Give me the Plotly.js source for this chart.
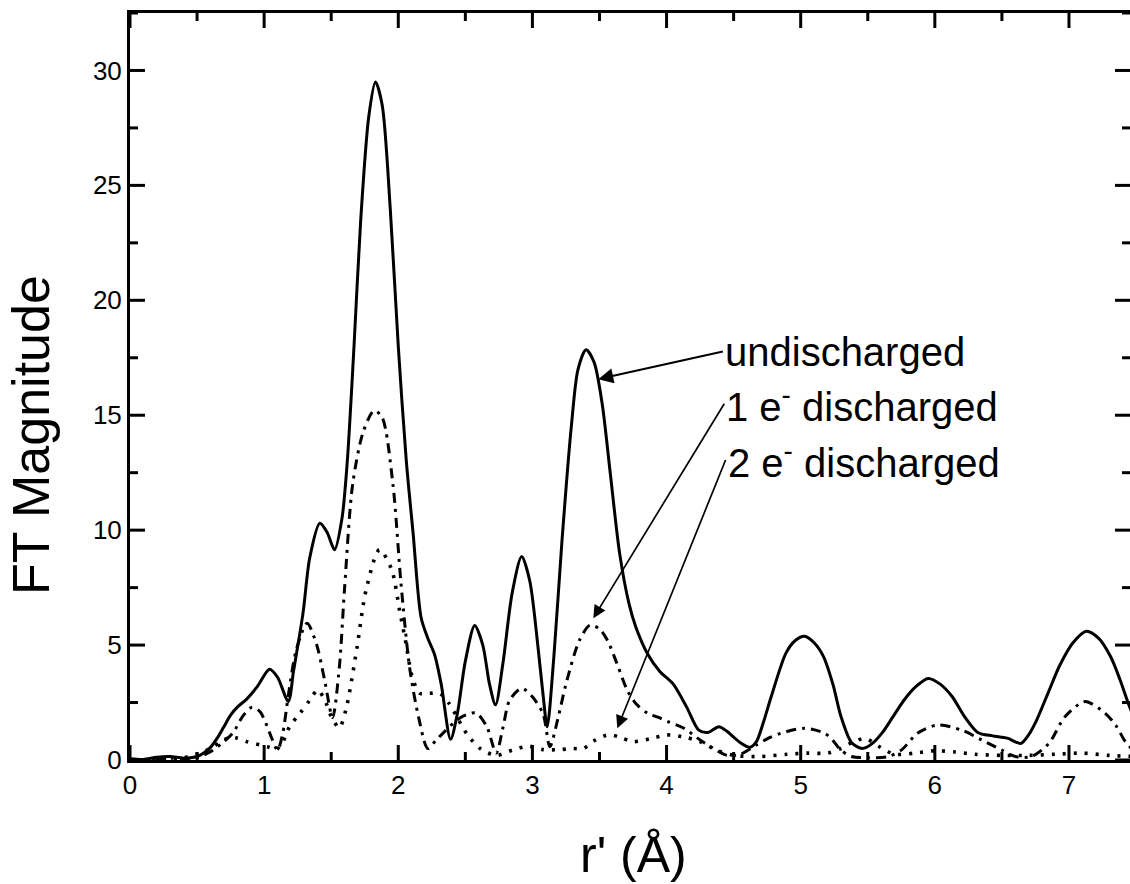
<!DOCTYPE html>
<html>
<head>
<meta charset="utf-8">
<script src="https://cdn.plot.ly/plotly-3.0.1.min.js"></script>
<style>
html,body{margin:0;padding:0;background:#fff;}
#chart{width:1130px;height:884px;}
</style>
</head>
<body>
<div id="chart"></div>
<script>
// undischarged (solid)
const rUnd = [0.00,0.10,0.20,0.30,0.40,0.50,0.55,0.60,0.65,0.70,0.75,0.80,0.87,0.95,1.04,1.10,1.18,1.22,1.29,1.34,1.415,1.47,1.525,1.58,1.62,1.67,1.72,1.78,1.83,1.88,1.94,2.00,2.06,2.11,2.17,2.22,2.27,2.32,2.39,2.44,2.50,2.57,2.63,2.68,2.725,2.78,2.85,2.92,2.98,3.04,3.08,3.11,3.16,3.22,3.29,3.34,3.40,3.46,3.52,3.58,3.65,3.72,3.77,3.86,3.95,4.05,4.15,4.24,4.31,4.39,4.45,4.50,4.55,4.62,4.67,4.72,4.78,4.89,4.96,5.03,5.10,5.17,5.24,5.30,5.38,5.46,5.53,5.61,5.69,5.77,5.86,5.95,6.04,6.13,6.22,6.32,6.43,6.54,6.64,6.70,6.76,6.85,6.93,7.03,7.13,7.22,7.31,7.38,7.44,7.50];
const vUnd = [0.05,0.02,0.12,0.15,0.08,0.15,0.3,0.55,0.95,1.45,1.95,2.3,2.65,3.2,3.95,3.6,2.55,3.9,6.4,8.8,10.3,9.9,9.15,10.5,13,18,23.5,28,29.5,28.5,24,18,13,9.9,6.2,5.3,4.6,3.3,0.9,2.0,4.3,5.85,5.0,3.3,2.4,4.2,7.3,8.85,7.8,5.0,2.8,1.45,4.5,9.5,14.5,17.0,17.85,17.3,15.5,12.5,9.0,6.8,5.8,4.6,3.85,3.3,2.3,1.3,1.2,1.45,1.25,1.0,0.75,0.55,0.8,1.6,2.75,4.65,5.2,5.38,5.1,4.5,3.3,1.9,0.75,0.5,0.7,1.2,1.9,2.6,3.2,3.55,3.3,2.75,1.9,1.2,1.05,0.95,0.72,1.1,1.75,3.0,4.1,5.1,5.6,5.3,4.5,3.5,2.5,1.6];

// 1 e- discharged (dash-dot)
const rOne = [0.00,0.10,0.20,0.30,0.40,0.50,0.60,0.70,0.77,0.84,0.91,0.97,1.02,1.06,1.10,1.14,1.18,1.24,1.32,1.39,1.45,1.51,1.56,1.60,1.66,1.74,1.82,1.88,1.96,2.02,2.085,2.15,2.22,2.28,2.33,2.41,2.48,2.58,2.66,2.73,2.78,2.83,2.92,3.00,3.08,3.13,3.19,3.25,3.35,3.43,3.50,3.56,3.63,3.71,3.78,3.86,3.94,4.01,4.13,4.25,4.37,4.45,4.55,4.67,4.76,4.85,5.03,5.18,5.24,5.30,5.38,5.50,5.65,5.75,5.87,6.02,6.20,6.35,6.50,6.60,6.72,6.85,6.97,7.12,7.27,7.35,7.42,7.50];
const vOne = [0.02,0.0,0.05,0.08,0.05,0.1,0.36,0.8,1.2,1.9,2.3,2.1,1.5,0.9,0.43,1.2,2.8,4.8,5.95,5.05,3.5,1.85,4.0,7.5,12,14.3,15.2,14.9,12,7.7,4.0,1.9,0.5,0.85,1.15,1.6,1.9,2.05,1.45,0.3,1.4,2.6,3.12,2.75,2.0,0.58,1.8,3.3,5.2,5.87,5.7,5.2,4.2,3.0,2.4,2.03,1.85,1.67,1.38,0.87,0.43,0.2,0.25,0.65,0.95,1.16,1.38,1.16,0.85,0.43,0.15,0.1,0.15,0.43,1.16,1.52,1.3,0.87,0.43,0.15,0.15,0.72,1.88,2.54,2.03,1.5,0.8,0.3];

// 2 e- discharged (dotted)
const rTwo = [0.00,0.10,0.20,0.30,0.40,0.52,0.60,0.68,0.75,0.80,0.87,0.97,1.04,1.09,1.14,1.19,1.27,1.34,1.40,1.46,1.50,1.56,1.61,1.69,1.76,1.86,1.95,2.01,2.06,2.10,2.16,2.23,2.31,2.38,2.43,2.51,2.61,2.73,2.85,2.97,3.08,3.20,3.30,3.38,3.47,3.57,3.65,3.75,3.89,4.00,4.13,4.25,4.37,4.50,4.70,4.90,5.05,5.20,5.30,5.38,5.48,5.58,5.70,5.85,6.00,6.15,6.30,6.50,6.70,6.90,7.10,7.30,7.50];
const vTwo = [0.0,0.0,0.05,0.05,0.1,0.3,0.5,0.8,1.0,0.95,0.8,0.65,0.55,0.45,0.8,1.45,2.05,2.6,3.05,2.5,1.9,1.4,2.2,4.8,7.4,9.15,8.3,6.5,5.0,3.7,2.9,2.9,2.9,2.45,1.95,1.15,0.5,0.2,0.43,0.6,0.45,0.45,0.5,0.5,0.87,1.1,1.0,0.8,0.94,1.09,1.0,0.8,0.43,0.2,0.15,0.25,0.3,0.3,0.5,0.75,0.94,0.6,0.25,0.3,0.4,0.35,0.25,0.2,0.2,0.25,0.3,0.2,0.15];

// tick values
const xMajor = [0,1,2,3,4,5,6,7];
const xMinor = [0.5,1.5,2.5,3.5,4.5,5.5,6.5];
const yMajor = [0,5,10,15,20,25,30];
const yMinor = [2.5,7.5,12.5,17.5,22.5,27.5,32.5];

const seriesNames = ["undischarged", "1 e<sup>-</sup> discharged", "2 e<sup>-</sup> discharged"];
const xTitle = "r' (Å)";
const yTitle = "FT Magnitude";

const FONT = "Liberation Sans, Arial, Helvetica, sans-serif";

const traces = [
  {x: rUnd, y: vUnd, mode: "lines", name: seriesNames[0],
   line: {color: "#000", width: 3, shape: "spline", smoothing: 0.8}},
  {x: rOne, y: vOne, mode: "lines", name: seriesNames[1],
   line: {color: "#000", width: 3, dash: "10px,6px,3px,6px", shape: "spline", smoothing: 0.8}},
  {x: rTwo, y: vTwo, mode: "lines", name: seriesNames[2],
   line: {color: "#000", width: 3.6, dash: "3px,8px", shape: "spline", smoothing: 0.8}}
];

const W = 1130, H = 884, ML = 130, MR = 0, MT = 13, MB = 124;
function px2paperX(p){ return (p - ML) / (W - ML - MR); }
function px2paperY(p){ return 1 - (p - MT) / (H - MT - MB); }

// tick marks (inside, on all four sides) as pixel-sized shapes anchored on the axis scales
const MAJ = 15, MIN = 8;
const tickShapes = [];
function xTick(v, len) {
  const ln = {color: "black", width: 3};
  tickShapes.push({type: "line", layer: "above", xref: "x", yref: "paper", x0: v, x1: v,
    ysizemode: "pixel", yanchor: 0, y0: 0, y1: len, line: ln});
  tickShapes.push({type: "line", layer: "above", xref: "x", yref: "paper", x0: v, x1: v,
    ysizemode: "pixel", yanchor: 1, y0: 0, y1: -len, line: ln});
}
function yTick(v, len) {
  const ln = {color: "black", width: 3};
  tickShapes.push({type: "line", layer: "above", xref: "paper", yref: "y", y0: v, y1: v,
    xsizemode: "pixel", xanchor: 0, x0: 0, x1: len, line: ln});
  tickShapes.push({type: "line", layer: "above", xref: "paper", yref: "y", y0: v, y1: v,
    xsizemode: "pixel", xanchor: 1, x0: 0, x1: -len, line: ln});
}
xMajor.forEach(v => xTick(v, MAJ));
xMinor.forEach(v => xTick(v, MIN));
yMajor.forEach(v => yTick(v, MAJ));
yMinor.forEach(v => yTick(v, MIN));

const labelFont = {family: FONT, size: 40, color: "black"};

const layout = {
  width: W, height: H,
  margin: {l: ML, r: MR, t: MT, b: MB},
  paper_bgcolor: "white",
  plot_bgcolor: "white",
  showlegend: false,
  xaxis: {
    showgrid: false, zeroline: false, showline: true, linecolor: "black", linewidth: 3,
    mirror: true, ticks: "",
    tickfont: {family: FONT, size: 26, color: "black"},
    range: [0, 7.455], tickmode: "array", tickvals: xMajor, ticktext: xMajor.map(String)
  },
  yaxis: {
    showgrid: false, zeroline: false, showline: true, linecolor: "black", linewidth: 3,
    mirror: true, ticks: "", ticksuffix: " ",
    tickfont: {family: FONT, size: 26, color: "black"},
    range: [0, 32.5], tickmode: "array", tickvals: yMajor, ticktext: yMajor.map(String)
  },
  shapes: tickShapes,
  annotations: [
    {x: 3.491, y: 16.57, ax: 4.42, ay: 17.77, axref: "x", ayref: "y", xref: "x", yref: "y",
     xanchor: "left", yanchor: "middle", text: seriesNames[0], font: labelFont,
     showarrow: true, arrowhead: 2, arrowsize: 1.5, arrowwidth: 2, arrowcolor: "black", standoff: 0},
    {x: 3.454, y: 6.17, ax: 4.43, ay: 15.5, axref: "x", ayref: "y", xref: "x", yref: "y",
     xanchor: "left", yanchor: "middle", text: seriesNames[1], font: labelFont,
     showarrow: true, arrowhead: 2, arrowsize: 1.5, arrowwidth: 1.7, arrowcolor: "black", standoff: 0},
    {x: 3.633, y: 1.38, ax: 4.44, ay: 13.05, axref: "x", ayref: "y", xref: "x", yref: "y",
     xanchor: "left", yanchor: "middle", text: seriesNames[2], font: labelFont,
     showarrow: true, arrowhead: 2, arrowsize: 1.5, arrowwidth: 1.7, arrowcolor: "black", standoff: 0},
    {x: px2paperX(31), y: px2paperY(435), xref: "paper", yref: "paper", showarrow: false, textangle: -90,
     xanchor: "center", yanchor: "middle", text: yTitle,
     font: {family: FONT, size: 52, color: "black"}},
    {x: px2paperX(633), y: px2paperY(855), xref: "paper", yref: "paper", showarrow: false,
     xanchor: "center", yanchor: "middle", text: xTitle,
     font: {family: FONT, size: 50, color: "black"}}
  ]
};

Plotly.newPlot("chart", traces, layout, {displayModeBar: false});
</script>
</body>
</html>
